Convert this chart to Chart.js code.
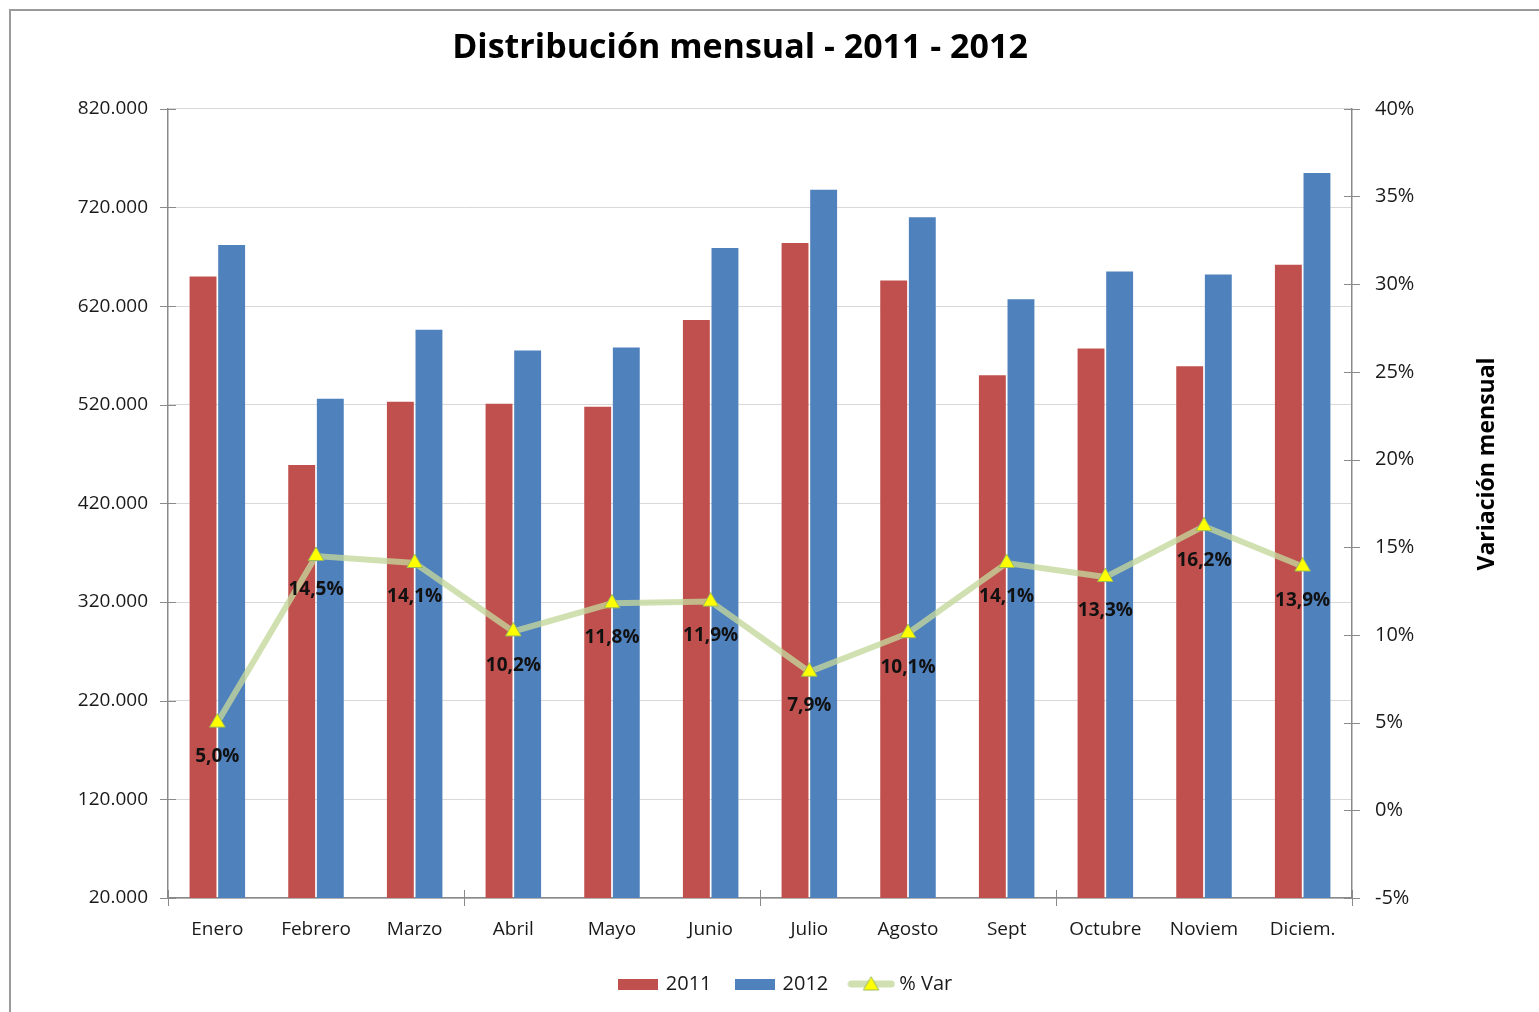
<!DOCTYPE html>
<html lang="es">
<head>
<meta charset="UTF-8">
<title>Distribución mensual - 2011 - 2012</title>
<script src="https://cdn.jsdelivr.net/npm/chart.js"></script>
<style>
  body { margin: 0; background: #fff; overflow: hidden; font-family: "Open Sans", sans-serif; }
  .marco { position: absolute; left: 9px; top: 9px; width: 1700px; height: 1200px; border-left: 2px solid #9a9a9a; border-top: 2px solid #9a9a9a; }
  .caja { position: absolute; left: 0; top: 0; width: 1539px; height: 1012px; }
</style>
</head>
<body>
<div class="marco"></div>
<div class="caja"><canvas id="grafico"></canvas></div>

<script>
  // datos
  const meses = ["Enero", "Febrero", "Marzo", "Abril", "Mayo", "Junio", "Julio", "Agosto", "Sept", "Octubre", "Noviem", "Diciem."];
  const ventas2011 = [650000, 459000, 523000, 521000, 518000, 606000, 684000, 646000, 550000, 577000, 559000, 662000];
  const ventas2012 = [682000, 526000, 596000, 575000, 578000, 679000, 738000, 710000, 627000, 655000, 652000, 755000];
  const variacion = [5.0, 14.5, 14.1, 10.2, 11.8, 11.9, 7.9, 10.1, 14.1, 13.3, 16.2, 13.9];

  const ROJO = "#C0504D";
  const AZUL = "#4F81BD";
  const VERDE = "rgba(196,215,155,0.78)";
  const GRIS = "#8a8a8a";

  const miles = v => String(v).replace(/\B(?=(\d{3})+(?!\d))/g, ".");
  const pct = v => v.toFixed(1).replace(".", ",") + "%";

  // iconos de la leyenda
  function icono(ancho, alto, dibujar) {
    const c = document.createElement("canvas");
    c.width = ancho; c.height = alto;
    dibujar(c.getContext("2d"));
    return c;
  }
  const icoRojo = icono(40, 11, g => { g.fillStyle = ROJO; g.fillRect(0, 0, 40, 11); });
  const icoAzul = icono(40, 11, g => { g.fillStyle = AZUL; g.fillRect(0, 0, 40, 11); });
  const icoLinea = icono(48, 18, g => {
    g.strokeStyle = VERDE; g.lineWidth = 7; g.lineCap = "round";
    g.beginPath(); g.moveTo(4, 9); g.lineTo(44, 9); g.stroke();
    g.fillStyle = "#FFFF00"; g.strokeStyle = "#9BBB59"; g.lineWidth = 1;
    g.beginPath(); g.moveTo(24, 2); g.lineTo(31.5, 15); g.lineTo(16.5, 15); g.closePath();
    g.fill(); g.stroke();
  });

  const extras = {
    id: "extras",
    afterLayout(chart) {
      // la leyenda de Excel queda algo a la derecha del titulo
      chart.legend.left += 46;
      chart.legend.right += 46;
    },
    afterDatasetsDraw(chart) {
      const ctx = chart.ctx;
      const meta = chart.getDatasetMeta(2);
      ctx.save();
      ctx.font = "bold 19px 'Open Sans'";
      ctx.fillStyle = "#111";
      ctx.textAlign = "center";
      ctx.textBaseline = "middle";
      meta.data.forEach((p, i) => ctx.fillText(pct(variacion[i]), p.x, p.y + 34));
      ctx.restore();
    },
    afterDraw(chart) {
      const { ctx, chartArea: a, scales } = chart;
      ctx.save();
      ctx.strokeStyle = GRIS;
      ctx.lineWidth = 1;
      ctx.beginPath();
      scales.y.ticks.forEach((t, i) => {
        const py = Math.round(scales.y.getPixelForTick(i)) + 0.5;
        ctx.moveTo(a.left - 8, py); ctx.lineTo(a.left + 8, py);
      });
      scales.y1.ticks.forEach((t, i) => {
        const py = Math.round(scales.y1.getPixelForTick(i)) + 0.5;
        ctx.moveTo(a.right - 8, py); ctx.lineTo(a.right + 8, py);
      });
      const paso = (a.right - a.left) / meses.length;
      for (let i = 0; i <= meses.length; i += 3) {
        const px = Math.round(a.left + paso * i) + 0.5;
        ctx.moveTo(px, a.bottom - 8); ctx.lineTo(px, a.bottom + 8);
      }
      ctx.stroke();

      // titulo del eje derecho (se lee de abajo hacia arriba)
      ctx.translate(a.right + 135, a.top + (a.bottom - a.top) * 0.45);
      ctx.rotate(-Math.PI / 2);
      ctx.font = "bold 23px 'Open Sans'";
      ctx.fillStyle = "#000";
      ctx.textAlign = "center";
      ctx.textBaseline = "middle";
      ctx.fillText("Variación mensual", 0, 0);
      ctx.restore();
    }
  };

  new Chart(document.getElementById("grafico"), {
    data: {
      labels: meses,
      datasets: [
        { type: "bar", label: "2011", data: ventas2011, backgroundColor: ROJO, yAxisID: "y", order: 2 },
        { type: "bar", label: "2012", data: ventas2012, backgroundColor: AZUL, yAxisID: "y", order: 2 },
        {
          type: "line", label: "% Var", data: variacion, yAxisID: "y1", order: 1,
          borderColor: VERDE, borderWidth: 6, tension: 0,
          pointStyle: "triangle", pointRadius: 9, pointBackgroundColor: "#FFFF00",
          pointBorderColor: "#9BBB59", pointBorderWidth: 1
        }
      ]
    },
    options: {
      responsive: true,
      maintainAspectRatio: false,
      animation: false,
      datasets: { bar: { categoryPercentage: 0.58, barPercentage: 0.94 } },
      layout: { padding: { left: 0, right: 59, top: 0, bottom: 8 } },
      plugins: {
        tooltip: { enabled: false },
        title: {
          display: true,
          text: "Distribución mensual - 2011 - 2012",
          color: "#000",
          font: { family: "'Open Sans'", size: 34, weight: "bold", lineHeight: 1.2 },
          padding: { top: 28, bottom: 40 }
        },
        legend: {
          position: "bottom",
          labels: {
            usePointStyle: true,
            pointStyleWidth: 36,
            padding: 25,
            color: "#1a1a1a",
            font: { family: "'Open Sans'", size: 20 },
            generateLabels(chart) {
              const iconos = [icoRojo, icoAzul, icoLinea];
              return chart.data.datasets.map((d, i) => ({
                text: d.label, pointStyle: iconos[i], datasetIndex: i,
                fillStyle: "transparent", strokeStyle: "transparent", lineWidth: 0, fontColor: "#1a1a1a"
              }));
            }
          }
        }
      },
      scales: {
        x: {
          grid: { display: false, drawTicks: false },
          border: { display: true, color: GRIS, width: 1.5 },
          ticks: { color: "#1a1a1a", padding: 20, font: { family: "'Open Sans'", size: 19 } },
          afterFit: s => { s.height = 51; }
        },
        y: {
          position: "left",
          min: 20000, max: 820000,
          grid: { color: "#d9d9d9", drawTicks: false },
          border: { display: true, color: GRIS, width: 1.5 },
          ticks: { stepSize: 100000, padding: 20, color: "#1a1a1a", font: { family: "'Open Sans'", size: 19 }, callback: v => miles(v) },
          afterFit: s => { s.width = 168; }
        },
        y1: {
          position: "right",
          min: -5, max: 40,
          grid: { drawOnChartArea: false, drawTicks: false },
          border: { display: true, color: GRIS, width: 1.5 },
          ticks: { stepSize: 5, padding: 23, color: "#1a1a1a", font: { family: "'Open Sans'", size: 20 }, callback: v => v + "%" },
          afterFit: s => { s.width = 128; }
        }
      }
    },
    plugins: [extras]
  });
</script>
</body>
</html>
